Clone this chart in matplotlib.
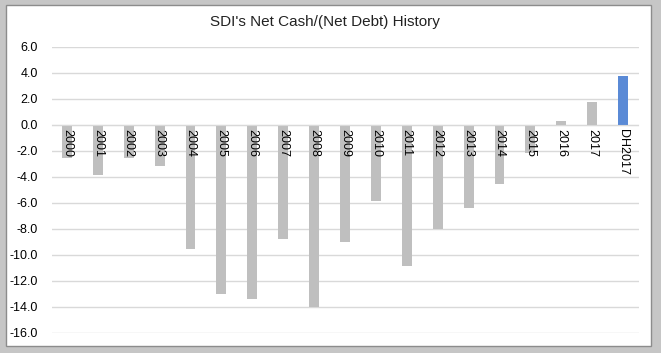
import matplotlib.pyplot as plt
from matplotlib.patches import Rectangle

years = ["2000", "2001", "2002", "2003", "2004", "2005", "2006", "2007", "2008",
         "2009", "2010", "2011", "2012", "2013", "2014", "2015", "2016", "2017", "DH2017"]
net_cash = [-2.6, -3.9, -2.6, -3.2, -9.6, -13.0, -13.4, -8.8, -14.0,
            -9.0, -5.9, -10.9, -8.0, -6.4, -4.6, -2.2, 0.25, 1.7, 3.7]
yticks = [6, 4, 2, 0, -2, -4, -6, -8, -10, -12, -14, -16]

plt.rcParams['font.family'] = ['Liberation Sans', 'DejaVu Sans']

fig = plt.figure(figsize=(6.61, 3.53), dpi=100)
fig.patch.set_facecolor('#c6c6c6')
fig.patches.append(Rectangle((6 / 661, 7 / 353), 645 / 661, 341 / 353,
                             transform=fig.transFigure, facecolor='white',
                             edgecolor='#8c8c8c', linewidth=1, zorder=0))

ax = fig.add_axes([51.5 / 661, 20.5 / 353, 587 / 661, 286 / 353])
ax.set_zorder(2)
ax.set_facecolor('none')

colors = ['#bfbfbf'] * (len(years) - 1) + ['#5a8ad6']
x = list(range(len(years)))
ax.bar(x, net_cash, width=0.32, color=colors, zorder=2)

ax.set_xlim(-0.5, len(years) - 0.5)
ax.set_ylim(-16, 6)
ax.set_yticks(yticks)
ax.set_yticklabels(["%.1f" % v for v in yticks], fontsize=9)
ax.yaxis.grid(True, color='#d9d9d9', linewidth=1)
ax.set_axisbelow(True)

ax.spines['bottom'].set_position(('data', 0))
ax.spines['bottom'].set_color('#d9d9d9')
for s in ['top', 'left', 'right']:
    ax.spines[s].set_visible(False)

ax.set_xticks(x)
ax.set_xticklabels([])
ax.tick_params(axis='x', length=0)
ax.tick_params(axis='y', length=0, pad=10)

# category labels sit on the zero line, above the bars
for i, name in enumerate(years):
    ax.annotate(name, xy=(i, 0), xytext=(0, -3), textcoords='offset points',
                rotation=-90, ha='center', va='top', fontsize=9, zorder=5)

fig.text(325 / 661, 1 - 22 / 353, "SDI's Net Cash/(Net Debt) History",
         ha='center', va='center', fontsize=11, color='#222222')

fig.savefig("out.png", dpi=100, facecolor=fig.get_facecolor())
